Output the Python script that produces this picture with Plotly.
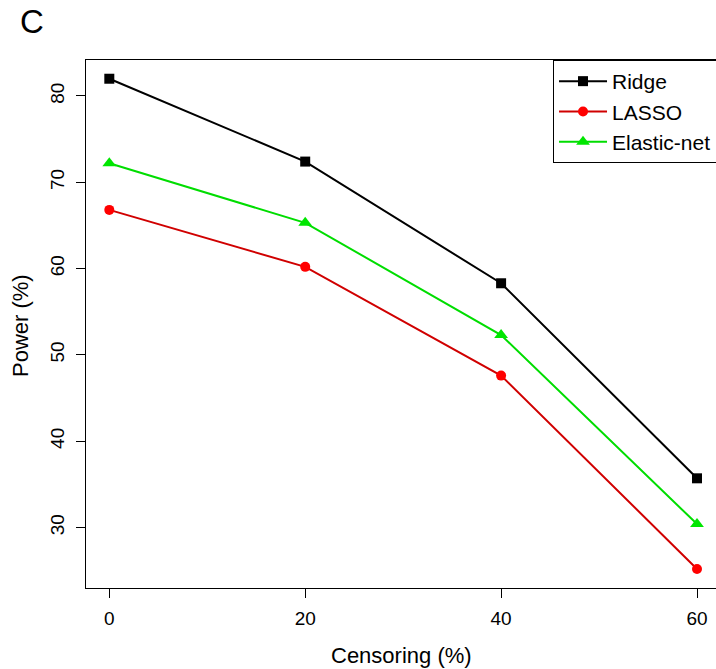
import plotly.graph_objects as go

censoring = [0, 20, 40, 60]
ridge = [82.0, 72.4, 58.3, 35.7]
lasso = [66.8, 60.2, 47.6, 25.2]
elastic = [72.2, 65.3, 52.3, 30.4]
series_names = ["Ridge", "LASSO", "Elastic-net"]
x_ticks = [0, 20, 40, 60]
y_ticks = [30, 40, 50, 60, 70, 80]

FONT = "Liberation Sans, Arial, sans-serif"

fig = go.Figure()
fig.add_trace(go.Scatter(x=censoring, y=ridge, name=series_names[0], mode="lines+markers",
                         line=dict(color="black", width=2),
                         marker=dict(symbol="square", size=10, color="black")))
fig.add_trace(go.Scatter(x=censoring, y=lasso, name=series_names[1], mode="lines+markers",
                         line=dict(color="#d00000", width=2),
                         marker=dict(symbol="circle", size=10, color="#ff0000")))
fig.add_trace(go.Scatter(x=censoring, y=elastic, name=series_names[2], mode="lines+markers",
                         line=dict(color="#00dd00", width=2),
                         marker=dict(symbol="triangle-up", size=12, color="#00e600")))

# plot area: left 86, right 716, top 60, bottom 588
fig.update_layout(
    width=716, height=669,
    margin=dict(l=86, r=0, t=60, b=81, autoexpand=False),
    paper_bgcolor="white", plot_bgcolor="white",
    font=dict(family=FONT, size=20, color="black"),
    showlegend=True,
    legend=dict(x=0.7413, y=1, xanchor="left", yanchor="top",
                bordercolor="black", borderwidth=1, bgcolor="white",
                font=dict(size=21), tracegroupgap=0, itemwidth=48),
    xaxis=dict(range=[-2.38, 61.94], tickvals=x_ticks, ticks="outside", ticklen=9,
               tickcolor="black", showline=True, linecolor="black", linewidth=1,
               mirror=True, showgrid=False, zeroline=False, automargin=False,
               tickfont=dict(size=19), ticklabelstandoff=4),
    yaxis=dict(range=[22.99, 84.17], tickvals=y_ticks, ticks="outside", ticklen=9,
               tickcolor="black", showline=True, linecolor="black", linewidth=1,
               showgrid=False, zeroline=False, tickangle=-90, automargin=False,
               tickfont=dict(size=19), ticklabelstandoff=4),
    annotations=[
        dict(text="C", xref="paper", yref="paper", x=-0.0865, y=1.0733,
             showarrow=False, font=dict(size=33, family=FONT),
             xanchor="center", yanchor="middle"),
        dict(text="Censoring (%)", xref="paper", yref="paper", x=0.5, xanchor="center",
             y=(588 - 655) / 528, yanchor="middle", showarrow=False,
             font=dict(size=22, family=FONT)),
        dict(text="Power (%)", xref="paper", yref="paper", x=(20 - 86) / 630,
             xanchor="center", y=(588 - 326) / 528, yanchor="middle", textangle=-90,
             showarrow=False, font=dict(size=22, family=FONT)),
    ],
)

fig.write_html("out.html", config={"displayModeBar": False},
               post_script="document.body.style.margin='0';document.body.style.overflow='hidden';")
